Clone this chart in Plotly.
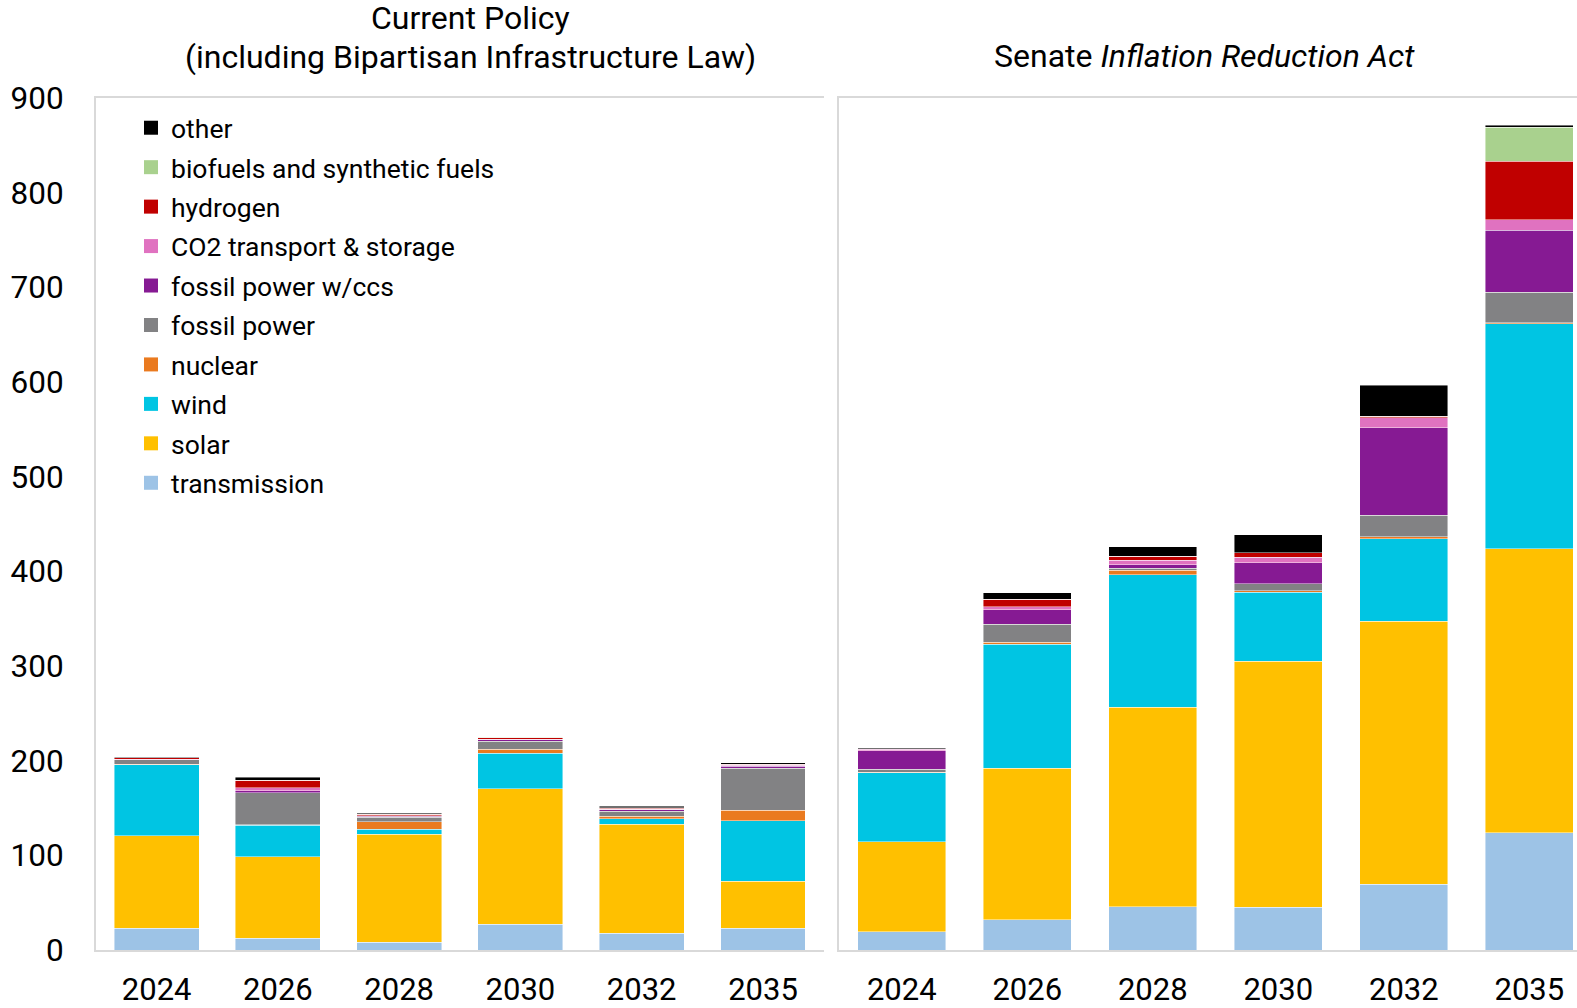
import plotly.graph_objects as go
from plotly.subplots import make_subplots

# categories
years = ["2024", "2026", "2028", "2030", "2032", "2035"]

# Current Policy (including Bipartisan Infrastructure Law)
cp_transmission = [22.8, 12.3, 8.4, 27.0, 17.6, 22.8]
cp_solar = [98.0, 86.0, 114.0, 143.2, 115.0, 50.0]
cp_wind = [75.0, 33.5, 4.9, 37.9, 6.3, 63.7]
cp_nuclear = [0.5, 0.5, 8.1, 4.2, 2.5, 11.3]
cp_fossil = [4.5, 33.8, 4.9, 8.1, 5.0, 44.3]
cp_fossil_ccs = [0.3, 2.0, 1.0, 1.8, 2.0, 2.1]
cp_co2 = [0.3, 3.5, 0.5, 0.5, 0.5, 1.0]
cp_hydrogen = [1.5, 7.5, 1.5, 1.4, 1.0, 1.0]
cp_biofuels = [0.0, 0.0, 0.0, 0.7, 0.5, 0.0]
cp_other = [0.5, 3.5, 1.4, 0.7, 1.5, 1.5]

# Senate Inflation Reduction Act
ira_transmission = [19.1, 32.2, 45.5, 44.9, 69.4, 123.8]
ira_solar = [95.0, 160.0, 211.0, 260.0, 278.0, 300.0]
ira_wind = [73.4, 131.0, 140.0, 73.0, 87.0, 237.5]
ira_nuclear = [0.3, 2.0, 4.6, 1.8, 2.1, 1.4]
ira_fossil = [3.2, 19.0, 2.1, 7.4, 22.9, 32.0]
ira_fossil_ccs = [19.3, 15.0, 3.5, 22.2, 92.2, 65.4]
ira_co2 = [2.0, 3.5, 4.9, 5.6, 10.6, 11.3]
ira_hydrogen = [0.5, 8.0, 4.2, 4.6, 1.5, 61.6]
ira_biofuels = [0.0, 0.0, 0.0, 0.0, 0.0, 35.9]
ira_other = [1.0, 6.5, 10.2, 19.3, 32.7, 2.1]

series_names = ["transmission", "solar", "wind", "nuclear", "fossil power",
                "fossil power w/ccs", "CO2 transport & storage", "hydrogen",
                "biofuels and synthetic fuels", "other"]
series_colors = ["#9DC3E6", "#FFC000", "#00C5E3", "#EA7A1F", "#828284",
                 "#861A93", "#E072C0", "#C00000", "#A9D18E", "#000000"]

cp_series = [cp_transmission, cp_solar, cp_wind, cp_nuclear, cp_fossil,
             cp_fossil_ccs, cp_co2, cp_hydrogen, cp_biofuels, cp_other]
ira_series = [ira_transmission, ira_solar, ira_wind, ira_nuclear, ira_fossil,
              ira_fossil_ccs, ira_co2, ira_hydrogen, ira_biofuels, ira_other]

W, H = 1577, 1008
ML, MT, MB = 96, 98, 58
plot_w = W - ML
plot_h = H - MT - MB

fig = make_subplots(rows=1, cols=2, shared_yaxes=False, horizontal_spacing=0.01)

# legend-only entries first (top of legend = top of stack), with bigger square swatches
for i in reversed(range(len(series_names))):
    fig.add_trace(go.Scatter(x=[None], y=[None], mode="markers", name=series_names[i],
                             marker=dict(symbol="square", size=14, color=series_colors[i]),
                             legendgroup=series_names[i], showlegend=True), row=1, col=1)

for i, name in enumerate(series_names):
    bar_marker = dict(color=series_colors[i], line=dict(color="rgba(255,255,255,0.55)", width=0.8))
    fig.add_trace(go.Bar(x=years, y=cp_series[i], name=name, marker=bar_marker,
                         legendgroup=name, showlegend=False), row=1, col=1)
    fig.add_trace(go.Bar(x=years, y=ira_series[i], name=name, marker=bar_marker,
                         legendgroup=name, showlegend=False), row=1, col=2)

frame = "#D9D9D9"
left_end = (823.6 - ML) / plot_w
right_start = (839 - ML) / plot_w

axis_common = dict(showgrid=False, zeroline=False, showline=True, linecolor=frame,
                   linewidth=2, mirror=True, ticks="", ticklabelstandoff=11,
                   tickfont=dict(family="Roboto", size=31, color="black"),
                   type="category", automargin=False)
fig.update_xaxes(domain=[0, left_end], range=[-0.5, 5.5], **axis_common, row=1, col=1)
fig.update_xaxes(domain=[right_start, 1], range=[-0.5, 5.38], **axis_common, row=1, col=2)

fig.update_yaxes(range=[0, 900], dtick=100, showgrid=False, zeroline=False,
                 showline=True, linecolor=frame, linewidth=2, ticks="",
                 ticklabelstandoff=24, automargin=False,
                 tickfont=dict(family="Roboto", size=31.5, color="black"), row=1, col=1)
fig.update_yaxes(range=[0, 900], showgrid=False, zeroline=False, showticklabels=False,
                 showline=True, linecolor=frame, linewidth=2, ticks="", automargin=False,
                 row=1, col=2)


def px_x(x):
    return (x - ML) / plot_w


def px_y(y):
    return 1 + (MT - y) / plot_h


title_font = dict(family="Roboto", size=32, color="black")
fig.add_annotation(text="Current Policy", xref="paper", yref="paper",
                   x=px_x(470), y=px_y(18), xanchor="center", yanchor="middle",
                   showarrow=False, font=title_font)
fig.add_annotation(text="(including Bipartisan Infrastructure Law)", xref="paper", yref="paper",
                   x=px_x(470), y=px_y(57), xanchor="center", yanchor="middle",
                   showarrow=False, font=title_font)
fig.add_annotation(text="Senate <i>Inflation Reduction Act</i>", xref="paper", yref="paper",
                   x=px_x(1204), y=px_y(56), xanchor="center", yanchor="middle",
                   showarrow=False, font=title_font)

fig.update_layout(
    width=W, height=H,
    margin=dict(l=ML, r=0, t=MT, b=MB),
    barmode="stack", bargap=0.30,
    plot_bgcolor="white", paper_bgcolor="white",
    font=dict(family="Roboto", color="black"),
    legend=dict(
        x=px_x(131), y=px_y(104), xanchor="left", yanchor="top",
        traceorder="grouped", bgcolor="rgba(0,0,0,0)",
        font=dict(family="Roboto", size=26.5, color="black"),
        tracegroupgap=2, itemwidth=30,
    ),
)

# the page body has a default margin; remove it so the figure sits at the corner
fig.write_html("out.html", config={"displayModeBar": False},
               post_script="document.body.style.margin='0';document.body.style.overflow='hidden';")
